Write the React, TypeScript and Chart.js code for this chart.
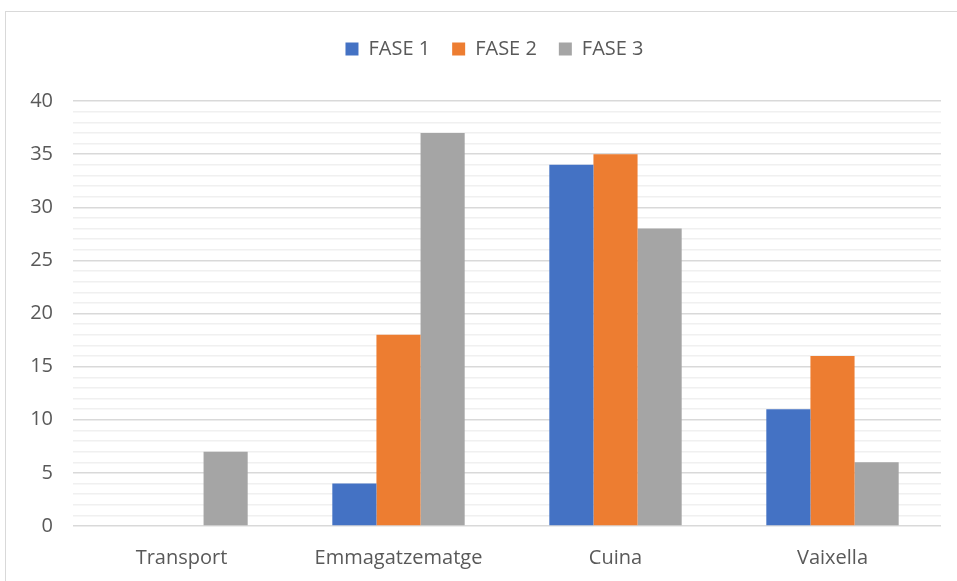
import React, { useEffect, useRef } from "react";
import { Chart, registerables } from "chart.js";

Chart.register(...registerables);

const categories = ["Transport", "Emmagatzematge", "Cuina", "Vaixella"];
const seriesNames = ["FASE 1", "FASE 2", "FASE 3"];
const fase1 = [0, 4, 34, 11];
const fase2 = [0, 18, 35, 16];
const fase3 = [7, 37, 28, 6];
const colors = ["#4472C4", "#ED7D31", "#A5A5A5"];
const yMax = 40;
const yStep = 1;
const yLabelEvery = 5;

const FONT = "'Open Sans', sans-serif";
const TEXT = "#595959";

const borderPlugin = {
  id: "outerBorder",
  beforeInit(chart: any) {
    const lg = chart.legend;
    if (lg && !lg.__patched) {
      const orig = lg.fit;
      lg.fit = function () {
        orig.call(this);
        this.height += 32;
      };
      lg.__patched = true;
    }
  },
  afterLayout(chart: any) {
    const lg = chart.legend;
    if (lg) {
      lg.left += 24;
      lg.right += 24;
    }
  },
  beforeDraw(chart: any) {
    const ctx = chart.ctx;
    ctx.save();
    ctx.fillStyle = "#ffffff";
    ctx.fillRect(0, 0, chart.width, chart.height);
    ctx.strokeStyle = "#d9d9d9";
    ctx.lineWidth = 1;
    ctx.strokeRect(5.5, 11.5, chart.width, chart.height);
    ctx.restore();
  },
};

export default function App() {
  const ref = useRef<HTMLCanvasElement>(null);
  useEffect(() => {
    document.body.style.margin = "0";
    const values = [fase1, fase2, fase3];
    const chart = new Chart(ref.current!, {
      type: "bar",
      data: {
        labels: categories,
        datasets: seriesNames.map((n, i) => ({
          label: n,
          data: values[i],
          backgroundColor: colors[i],
          borderWidth: 0,
          categoryPercentage: 0.61,
          barPercentage: 1.0,
        })),
      },
      options: {
        animation: false,
        responsive: false,
        layout: { padding: { left: 0, right: 16, top: 17, bottom: 0 } },
        plugins: {
          tooltip: { enabled: false },
          legend: {
            position: "top",
            labels: {
              boxWidth: 13,
              boxHeight: 13,
              padding: 22,
              color: TEXT,
              font: { family: FONT, size: 20 },
            },
          },
        },
        scales: {
          x: {
            grid: { display: false },
            border: { display: false },
            ticks: {
              color: TEXT,
              font: { family: FONT, size: 20 },
              padding: 12,
            },
            afterFit(scale: any) {
              scale.height = 55;
            },
          },
          y: {
            min: 0,
            max: yMax,
            border: { display: false },
            grid: {
              drawTicks: false,
              color: (c: any) =>
                c.tick && c.tick.value % yLabelEvery === 0 ? "#d9d9d9" : "#f0f0f0",
              lineWidth: 1.5,
            },
            ticks: {
              stepSize: yStep,
              autoSkip: false,
              color: TEXT,
              font: { family: FONT, size: 20 },
              padding: 20,
              callback: (v: any) => (Number(v) % yLabelEvery === 0 ? String(v) : ""),
            },
            afterFit(scale: any) {
              scale.width = 73;
            },
          },
        },
      },
      plugins: [borderPlugin],
    });
    return () => chart.destroy();
  }, []);
  return <canvas ref={ref} width={957} height={581} style={{ display: "block" }} />;
}
